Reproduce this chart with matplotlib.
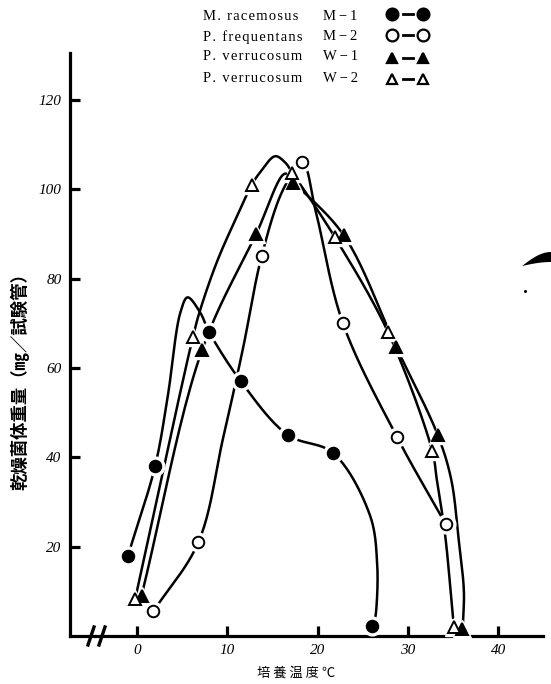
import numpy as np
import matplotlib
matplotlib.use("Agg")
import matplotlib.pyplot as plt
from matplotlib.patches import Polygon

# measured points (temperature C, dry weight mg / tube)
temp_m1 = [-1.0, 2.0, 8.0, 11.5, 16.7, 21.7, 26.0]
wt_m1 = [18, 38, 68, 57, 45, 41, 2.2]
temp_m2 = [1.8, 6.8, 13.8, 18.3, 22.8, 28.8, 34.2]
wt_m2 = [5.5, 21, 85, 106, 70, 44.5, 25]
temp_w1 = [0.5, 7.2, 13.2, 17.3, 22.9, 28.7, 33.3, 36.0]
wt_w1 = [9, 64, 90, 101.5, 89.7, 64.7, 45, 1.5]
temp_w2 = [-0.2, 6.2, 12.7, 17.2, 21.9, 27.8, 32.7, 35.1]
wt_w2 = [8.3, 67, 101, 103.7, 89.3, 68, 41.4, 2]

# hand drawn curves
curve_m1_t = [-1.0, 2.0, 3.4, 4.8, 5.6, 7.0, 8.0, 11.5, 16.7, 21.7, 25.8, 26.6, 26.5, 26.3]
curve_m1_w = [18, 38, 53.6, 72.4, 75.8, 72.4, 68, 57, 45, 41, 27, 16, 6, 3]
curve_m2_t = [1.8, 6.8, 9.5, 11.7, 13.8, 16.2, 18.3, 19.8, 22.8, 28.8, 34.2]
curve_m2_w = [5.5, 21, 44, 64, 85, 100, 106, 95, 70, 44.5, 25]
curve_w1_t = [0.5, 7.2, 13.2, 16.4, 17.3, 22.9, 28.7, 33.3, 34.8, 35.6, 36.2, 36.1]
curve_w1_w = [9, 64, 90, 103.5, 101.6, 89.7, 64.7, 45, 35, 22, 10, 3]
curve_w2_t = [-0.2, 6.2, 7.0, 8.9, 11.4, 12.7, 13.6, 15.3, 16.4, 17.2, 21.9, 27.8,
              32.7, 33.2, 34.1, 35.0]
curve_w2_w = [8.3, 67, 73, 84, 95.4, 101, 103.7, 107.4, 106, 103.7, 89.3, 68,
              41.4, 35, 23, 4]

legend_names = ["M. racemosus", "P. frequentans", "P. verrucosum", "P. verrucosum"]
legend_codes = ["M\u2009\u2212\u20091", "M\u2009\u2212\u20092", "W\u2009\u2212\u20091", "W\u2009\u2212\u20092"]

x_ticks = [0, 10, 20, 30, 40]
y_ticks = [20, 40, 60, 80, 100, 120]


def smooth(ts, ws, n=24):
    # centripetal catmull-rom through the traced points
    s = np.column_stack([ts, ws]).astype(float) * [2.0, 1.0]
    s = np.vstack([2 * s[0] - s[1], s, 2 * s[-1] - s[-2]])
    out = []
    for i in range(1, len(s) - 2):
        p0, p1, p2, p3 = s[i - 1], s[i], s[i + 1], s[i + 2]
        t0 = 0.0
        t1 = t0 + max(np.linalg.norm(p1 - p0) ** 0.5, 1e-6)
        t2 = t1 + max(np.linalg.norm(p2 - p1) ** 0.5, 1e-6)
        t3 = t2 + max(np.linalg.norm(p3 - p2) ** 0.5, 1e-6)
        t = np.linspace(t1, t2, n)[:, None]
        a1 = (t1 - t) / (t1 - t0) * p0 + (t - t0) / (t1 - t0) * p1
        a2 = (t2 - t) / (t2 - t1) * p1 + (t - t1) / (t2 - t1) * p2
        a3 = (t3 - t) / (t3 - t2) * p2 + (t - t2) / (t3 - t2) * p3
        b1 = (t2 - t) / (t2 - t0) * a1 + (t - t0) / (t2 - t0) * a2
        b2 = (t3 - t) / (t3 - t1) * a2 + (t - t1) / (t3 - t1) * a3
        c = (t2 - t) / (t2 - t1) * b1 + (t - t1) / (t2 - t1) * b2
        out.append(c)
    c = np.vstack(out) / [2.0, 1.0]
    return c[:, 0], c[:, 1]


W, H = 551, 684
fig = plt.figure(figsize=(W / 100, H / 100), dpi=100)
ax = fig.add_axes([70 / W, (H - 636) / H, (543 - 70) / W, (636 - 53) / H])
ax.set_xlim(-7.42, 44.96)
ax.set_ylim(0, 130.5)

series = [
    (temp_m1, wt_m1, curve_m1_t, curve_m1_w, "o", "black"),
    (temp_m2, wt_m2, curve_m2_t, curve_m2_w, "o", "white"),
    (temp_w1, wt_w1, curve_w1_t, curve_w1_w, "^", "black"),
    (temp_w2, wt_w2, curve_w2_t, curve_w2_w, "^", "white"),
]
for t, w, ct, cw, mk, fc in series:
    sx, sy = smooth(ct, cw)
    ax.plot(sx, sy, color="black", lw=1.8, solid_capstyle="round", zorder=2, clip_on=False)
for t, w, ct, cw, mk, fc in series:
    ax.plot(t, w, ls="none", marker=mk, ms=13.5, mfc="white", mec="white", zorder=3, clip_on=False)
for t, w, ct, cw, mk, fc in series:
    ax.plot(t, w, ls="none", marker=mk, ms=8.3, mfc=fc, mec="black", mew=1.4,
            zorder=4, clip_on=False)

for side in ["top", "right"]:
    ax.spines[side].set_visible(False)
for side in ["left", "bottom"]:
    ax.spines[side].set_linewidth(2.3)
ax.set_xticks(x_ticks)
ax.set_yticks(y_ticks)
ax.tick_params(direction="in", length=7, width=2.3, pad=6)
ax.set_xticklabels([str(v) for v in x_ticks], family="Liberation Serif", style="italic", fontsize=11)
ax.set_yticklabels([str(v) for v in y_ticks], family="Liberation Serif", style="italic", fontsize=11)

# overlay in pixel coordinates for legend, labels and axis break
ov = fig.add_axes([0, 0, 1, 1])
ov.set_xlim(0, W)
ov.set_ylim(H, 0)
ov.axis("off")

rows = [16, 37, 57, 78]
styles = [("o", "black"), ("o", "white"), ("^", "black"), ("^", "white")]
for y, name, code, (mk, fc) in zip(rows, legend_names, legend_codes, styles):
    ov.text(203, y, "\u200a".join(name), family=["Liberation Serif", "DejaVu Serif"],
            fontsize=10.5, va="center", ha="left")
    ov.text(323, y, code, family=["Liberation Serif", "DejaVu Serif"],
            fontsize=10.5, va="center", ha="left")
    ym = y - 2 if mk == "o" else y + 1
    ov.plot([403, 413], [ym, ym], color="black", lw=2)
    ov.plot([392, 423], [ym, ym], ls="none", marker=mk, ms=8.5 if mk == "o" else 7.5,
            mfc=fc, mec="black", mew=1.6)

cjk = ["Noto Sans CJK JP", "DejaVu Sans"]
ov.text(20, 377, "乾燥菌体重量（㎎／試験管）", rotation=90, family=cjk, fontsize=12.5,
        fontweight="bold", ha="center", va="center")
ov.text(296, 673, "培 養 温 度 ℃", family=cjk, fontsize=9.5, ha="center", va="center")

# axis break marks
ov.plot([88, 94], [645, 627], color="black", lw=2.4)
ov.plot([99, 105], [645, 627], color="black", lw=2.4)

# scanner smudge at the right edge
u = np.linspace(0, 1, 20)
top = np.column_stack([522 + 29 * u, 266 - 14 * np.sin(u * np.pi / 2)])
bot = np.column_stack([551 - 29 * u, 266 - 4 * np.sin((1 - u) * np.pi / 2)])
ov.add_patch(Polygon(np.vstack([top, bot]), closed=True, color="black", lw=0))
ov.plot([525], [291], marker="o", ms=1.2, color="black")

fig.savefig("out.png", dpi=100)
